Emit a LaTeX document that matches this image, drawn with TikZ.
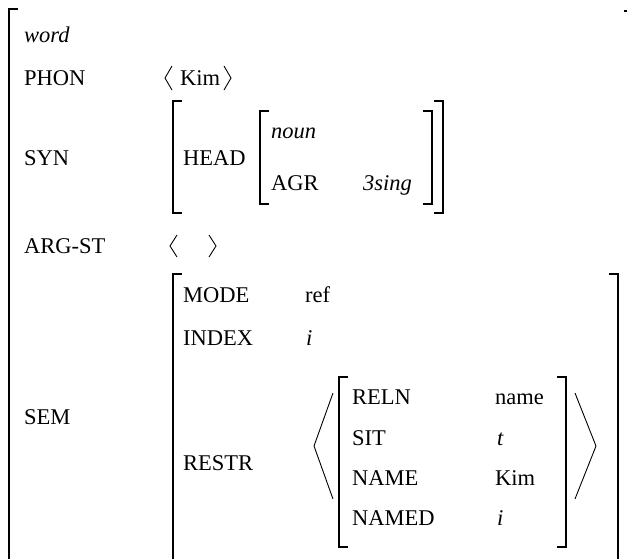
\documentclass[tikz,border=0pt]{standalone}
\usepackage{fontspec}
\setmainfont{Liberation Serif}
\begin{document}
\begin{tikzpicture}[x=1pt,y=-1pt,
  lbl/.style={anchor=base west, inner sep=0pt, font=\fontsize{22.5}{27}\selectfont},
  ilbl/.style={lbl, font=\fontsize{22.5}{27}\selectfont\itshape},
  brk/.style={line width=1.1pt},
  ang/.style={line width=0.9pt, line join=miter}]
\useasboundingbox (0,0) rectangle (627,558);
\clip (0,0) rectangle (627,558);
% outer AVM brackets
\draw[brk] (18,9) -- (9,9) -- (9,600);
\draw[brk] (624,11) -- (640,11) -- (640,600);
% top level
\node[ilbl] (word) at (24,42) {word};
\node[lbl] (phon) at (24,85) {PHON};
\node[lbl] (syn) at (24,165) {SYN};
\node[lbl] (argst) at (24,253) {ARG-ST};
\node[lbl] (sem) at (24,424) {SEM};
% PHON value
\draw[ang] (172,66) -- (165,78) -- (172,90);
\node[lbl] (kim1) at (180,85) {Kim};
\draw[ang] (224,66) -- (231,78) -- (224,90);
% SYN value
\draw[brk] (182,101) -- (173,101) -- (173,213) -- (182,213);
\draw[brk] (434,101) -- (443,101) -- (443,213) -- (434,213);
\node[lbl] (head) at (183,165) {HEAD};
\draw[brk] (269,111) -- (260,111) -- (260,204) -- (269,204);
\draw[brk] (423,111) -- (432,111) -- (432,204) -- (423,204);
\node[ilbl] (noun) at (271,138) {noun};
\node[lbl] (agr) at (271,190) {AGR};
\node[ilbl] (sing) at (363,190) {3sing};
% ARG-ST value
\draw[ang] (177,235) -- (170,246) -- (177,257);
\draw[ang] (209,235) -- (216,246) -- (209,257);
% SEM value
\draw[brk] (182,274) -- (173,274) -- (173,600);
\draw[brk] (609,274) -- (618,274) -- (618,600);
\node[lbl] (mode) at (183,302) {MODE};
\node[lbl] (ref) at (305,302) {ref};
\node[lbl] (index) at (183,345) {INDEX};
\node[ilbl] (idx) at (306,345) {i};
\node[lbl] (restr) at (183,470) {RESTR};
% RESTR list
\draw[ang] (333,393) -- (314,446) -- (333,499);
\draw[ang] (575,393) -- (596,446) -- (575,499);
\draw[brk] (348,377) -- (339,377) -- (339,547) -- (348,547);
\draw[brk] (557,377) -- (566,377) -- (566,547) -- (557,547);
\node[lbl] (reln) at (352,404) {RELN};
\node[lbl] (name) at (495,404) {name};
\node[lbl] (sit) at (352,445) {SIT};
\node[ilbl] (t) at (497,445) {t};
\node[lbl] (nm) at (352,485) {NAME};
\node[lbl] (kim2) at (495,485) {Kim};
\node[lbl] (named) at (352,525) {NAMED};
\node[ilbl] (i2) at (497,525) {i};
\end{tikzpicture}
\end{document}
